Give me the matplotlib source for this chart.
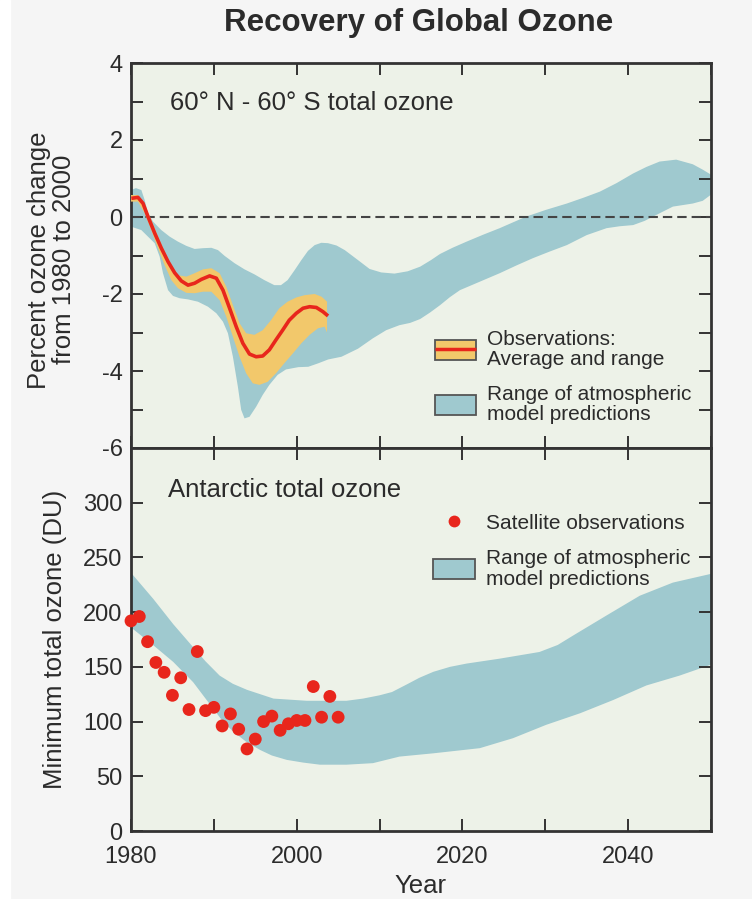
import numpy as np
import matplotlib.pyplot as plt
from matplotlib.patches import Patch, Rectangle
from matplotlib.lines import Line2D
from matplotlib.ticker import MultipleLocator

plt.rcParams['font.family'] = ['Liberation Sans', 'DejaVu Sans']
plt.rcParams['axes.unicode_minus'] = False

BLUE = '#9fc9cf'
ORANGE = '#f2c86b'
RED = '#e8261c'
INK = '#2b2b2b'
AXBG = '#edf2e8'
FIGBG = '#f5f5f5'

# --- 60N-60S total ozone, percent change from 1980 ---
# model range, upper edge
mod_hi_yr = [1980.0, 1980.6, 1981.25, 1981.65, 1982.05, 1982.66, 1983.66, 1984.67, 1985.67,
             1986.68, 1987.68, 1988.69, 1989.7, 1990.5, 1991.3, 1992.5, 1993.7, 1994.9,
             1996.1, 1997.3, 1998.1, 1998.9, 1999.75, 2000.56, 2001.36, 2002.17, 2002.97,
             2003.78, 2004.8, 2005.8, 2006.6, 2007.4, 2008.8, 2010.2, 2011.8, 2013.4,
             2014.9, 2016.2, 2017.3, 2018.8, 2020.5, 2022.5, 2024.5, 2026.2, 2027.7,
             2030.0, 2032.6, 2034.6, 2036.6, 2038.6, 2040.6, 2042.2, 2043.8, 2045.8,
             2047.8, 2049.0, 2050.0]
mod_hi = [0.70, 0.75, 0.70, 0.44, 0.10, -0.12, -0.34, -0.51, -0.64,
          -0.75, -0.83, -0.81, -0.80, -0.86, -1.01, -1.20, -1.36, -1.49,
          -1.64, -1.77, -1.77, -1.64, -1.38, -1.12, -0.88, -0.73, -0.67,
          -0.68, -0.74, -0.86, -0.99, -1.12, -1.35, -1.44, -1.47, -1.41,
          -1.29, -1.12, -0.96, -0.80, -0.64, -0.46, -0.29, -0.13, 0.01,
          0.18, 0.35, 0.50, 0.66, 0.88, 1.13, 1.30, 1.44, 1.49,
          1.37, 1.23, 1.10]
# model range, lower edge
mod_lo_yr = [1980.0, 1981.25, 1982.05, 1982.86, 1983.46, 1983.86, 1984.47, 1985.07, 1985.87,
             1986.88, 1988.08, 1989.29, 1990.3, 1991.1, 1991.7, 1992.3, 1992.9, 1993.3,
             1993.7, 1994.3, 1995.1, 1995.9, 1996.7, 1997.7, 1998.7, 2000.2, 2001.4,
             2002.6, 2003.8, 2005.4, 2007.4, 2009.2, 2010.8, 2012.4, 2013.7, 2014.9,
             2016.1, 2017.3, 2018.5, 2019.7, 2022.1, 2024.5, 2026.5, 2028.5, 2030.5,
             2032.6, 2035.0, 2037.4, 2039.0, 2040.6, 2042.0, 2043.0, 2045.4, 2047.8,
             2049.0, 2050.0]
mod_lo = [-0.25, -0.34, -0.51, -0.68, -1.03, -1.46, -1.90, -2.05, -2.11,
          -2.14, -2.20, -2.33, -2.50, -2.72, -3.02, -3.63, -4.41, -5.01,
          -5.23, -5.19, -4.93, -4.62, -4.36, -4.10, -3.96, -3.90, -3.89,
          -3.80, -3.70, -3.63, -3.42, -3.15, -2.94, -2.81, -2.75, -2.65,
          -2.48, -2.29, -2.08, -1.90, -1.68, -1.46, -1.26, -1.07, -0.90,
          -0.73, -0.47, -0.29, -0.24, -0.21, -0.10, 0.01, 0.27, 0.35,
          0.42, 0.58]

# observations: range and average
obs_hi_yr = [1980.0, 1980.84, 1981.65, 1982.45, 1983.26, 1984.06, 1984.87, 1985.67, 1986.68,
             1987.68, 1988.69, 1989.7, 1990.7, 1991.5, 1992.3, 1993.1, 1993.9, 1994.9,
             1995.9, 1996.9, 1997.9, 1998.9, 1999.95, 2000.96, 2002.17, 2003.0, 2003.66]
obs_hi = [0.57, 0.57, 0.31, -0.08, -0.51, -0.90, -1.25, -1.51, -1.55,
          -1.46, -1.36, -1.33, -1.46, -1.81, -2.29, -2.76, -3.02, -3.06,
          -2.94, -2.68, -2.37, -2.20, -2.09, -2.03, -2.00, -2.07, -2.20]
obs_lo_yr = [1980.0, 1980.84, 1981.65, 1982.45, 1983.26, 1984.06, 1984.87, 1985.67, 1986.68,
             1987.68, 1988.69, 1989.7, 1990.7, 1991.5, 1992.3, 1993.1, 1993.9, 1994.7,
             1995.5, 1996.5, 1997.5, 1998.5, 1999.55, 2000.56, 2001.56, 2002.57, 2003.37,
             2003.66]
obs_lo = [0.40, 0.40, 0.10, -0.34, -0.81, -1.25, -1.64, -1.85, -1.97,
          -1.98, -1.94, -1.94, -2.16, -2.59, -3.11, -3.63, -4.06, -4.32,
          -4.36, -4.28, -4.06, -3.80, -3.54, -3.28, -3.06, -2.89, -2.85,
          -3.00]
obs_mean_yr = [1980.04, 1980.84, 1981.45, 1982.05, 1982.86, 1983.66, 1984.47, 1985.27, 1986.07,
               1986.88, 1987.68, 1988.49, 1989.49, 1990.3, 1991.1, 1991.9, 1992.7, 1993.5,
               1994.3, 1995.1, 1995.9, 1996.7, 1997.5, 1998.3, 1999.1, 1999.95, 2000.76,
               2001.56, 2002.37, 2003.17, 2003.78]
obs_mean = [0.485, 0.51, 0.355, 0.01, -0.42, -0.81, -1.16, -1.45, -1.66,
            -1.77, -1.72, -1.62, -1.53, -1.59, -1.90, -2.37, -2.85, -3.28,
            -3.56, -3.63, -3.61, -3.45, -3.19, -2.94, -2.68, -2.50, -2.37,
            -2.33, -2.35, -2.46, -2.57]

# --- Antarctic minimum total ozone (DU) ---
sat_years = list(range(1980, 2006))
sat_du = [192, 196, 173, 154, 145, 124, 140, 111, 164, 110, 113, 96, 107,
          93, 75, 84, 100, 105, 92, 98, 101, 101, 132, 104, 123, 104]

ant_hi_yr = [1980.0, 1982.7, 1985.1, 1987.5, 1989.0, 1990.7, 1992.3, 1994.0, 1997.2,
             2001.2, 2006.0, 2008.0, 2010.0, 2011.5, 2013.3, 2014.8, 2016.5, 2018.5,
             2020.5, 2024.5, 2029.3, 2031.5, 2033.4, 2037.4, 2041.4, 2045.4, 2050.0]
ant_hi = [236, 212, 189, 168, 155, 142, 134.5, 129, 121,
          119, 119, 121, 124, 127, 134, 140, 145.5, 150,
          153, 157.5, 163.6, 170, 178.8, 197, 215, 227, 235]
ant_lo_yr = [1980.0, 1982.7, 1985.1, 1987.5, 1989.9, 1991.0, 1992.3, 1994.0, 1995.6,
             1997.0, 1998.8, 2000.8, 2002.8, 2006.0, 2009.2, 2012.4, 2016.5, 2022.1,
             2026.1, 2030.1, 2034.2, 2038.2, 2042.2, 2046.2, 2050.0]
ant_lo = [186, 169.7, 154.5, 136, 112, 101, 91, 81, 74,
          69, 65, 62.5, 60.6, 60.6, 62, 68, 71, 75.7,
          84.8, 97, 107.6, 119.7, 133, 142, 152]


def band(ax, x_hi, y_hi, x_lo, y_lo, **kw):
    xs = np.r_[x_hi, x_lo[::-1]]
    ys = np.r_[y_hi, y_lo[::-1]]
    ax.fill(xs, ys, lw=0, **kw)


fig = plt.figure(figsize=(7.52, 8.99), dpi=100, facecolor=FIGBG)
fig.patches.append(Rectangle((0, 0), 10 / 752, 1, transform=fig.transFigure,
                             color='white', zorder=0))

ax1 = fig.add_axes([131 / 752, 1 - 448 / 899, 580 / 752, 385 / 899])
ax2 = fig.add_axes([131 / 752, 1 - 831 / 899, 580 / 752, 383 / 899])

# top panel
band(ax1, mod_hi_yr, mod_hi, mod_lo_yr, mod_lo, color=BLUE, zorder=1)
ax1.axhline(0, color='#444444', lw=1.5, ls=(0, (4.5, 2.4)), zorder=2)
band(ax1, obs_hi_yr, obs_hi, obs_lo_yr, obs_lo, color=ORANGE, zorder=3)
ax1.plot(obs_mean_yr, obs_mean, color=RED, lw=2.6, solid_capstyle='butt',
         solid_joinstyle='round', zorder=4)

ax1.set_ylim(-6, 4)
ax1.yaxis.set_major_locator(MultipleLocator(2))
ax1.yaxis.set_minor_locator(MultipleLocator(1))
ax1.text(0.067, 0.897, '60° N - 60° S total ozone', transform=ax1.transAxes,
         fontsize=18.5, color=INK, va='center', ha='left')

h_obs = (Patch(facecolor=ORANGE, edgecolor='#555555', lw=1.3),
         Line2D([], [], color=RED, lw=2.5, solid_capstyle='butt'))
h_mod = Patch(facecolor=BLUE, edgecolor='#555555', lw=1.3)
leg1 = ax1.legend([h_obs, h_mod],
                  ['Observations:\nAverage and range', 'Range of atmospheric\nmodel predictions'],
                  loc='upper left', bbox_to_anchor=(0.524, 0.307), frameon=False,
                  fontsize=15, handlelength=1.95, handleheight=1.1, handletextpad=0.55,
                  labelspacing=0.75, borderpad=0, borderaxespad=0, labelcolor=INK)
for t in leg1.get_texts():
    t.set_linespacing(1.1)

# bottom panel
band(ax2, ant_hi_yr, ant_hi, ant_lo_yr, ant_lo, color=BLUE, zorder=1)
ax2.scatter(sat_years, sat_du, s=85, color=RED, edgecolors='none', zorder=3, clip_on=False)

ax2.set_ylim(0, 350)
ax2.set_yticks(range(0, 351, 50))
ax2.set_yticklabels([str(v) for v in range(0, 301, 50)] + [''])
ax2.text(0.064, 0.89, 'Antarctic total ozone', transform=ax2.transAxes,
         fontsize=18.5, color=INK, va='center', ha='left')

h_sat = Line2D([], [], ls='none', marker='o', ms=8.5, color=RED, mec='none')
leg2 = ax2.legend([h_sat, h_mod],
                  ['Satellite observations', 'Range of atmospheric\nmodel predictions'],
                  loc='upper left', bbox_to_anchor=(0.521, 0.832), frameon=False,
                  fontsize=15, handlelength=2.0, handleheight=1.1, handletextpad=0.55,
                  labelspacing=0.75, borderpad=0, borderaxespad=0, labelcolor=INK)
for t in leg2.get_texts():
    t.set_linespacing(1.1)

for ax in (ax1, ax2):
    ax.set_facecolor(AXBG)
    ax.set_xlim(1980, 2050)
    ax.xaxis.set_major_locator(MultipleLocator(20))
    ax.xaxis.set_minor_locator(MultipleLocator(10))
    for sp in ax.spines.values():
        sp.set_color('#333333')
        sp.set_linewidth(2)
    ax.tick_params(which='both', direction='in', top=True, right=True,
                   length=8.5, width=1.4, color='#333333', labelsize=17,
                   labelcolor=INK)
    ax.tick_params(axis='y', pad=6)
    ax.tick_params(axis='x', pad=11)

ax1.tick_params(labelbottom=False)

fig.text(0.557, 0.974, 'Recovery of Global Ozone', fontsize=22.5, fontweight='bold',
         color=INK, ha='center', va='center')
fig.text(0.069, 0.711, 'Percent ozone change\nfrom 1980 to 2000', rotation=90,
         fontsize=18.5, color=INK, ha='center', va='center', linespacing=1.05)
fig.text(0.073, 0.289, 'Minimum total ozone (DU)', rotation=90,
         fontsize=18.5, color=INK, ha='center', va='center')
fig.text(0.5585, 0.0145, 'Year', fontsize=18.5, color=INK, ha='center', va='center')

fig.savefig('out.png', dpi=100, facecolor=FIGBG)
